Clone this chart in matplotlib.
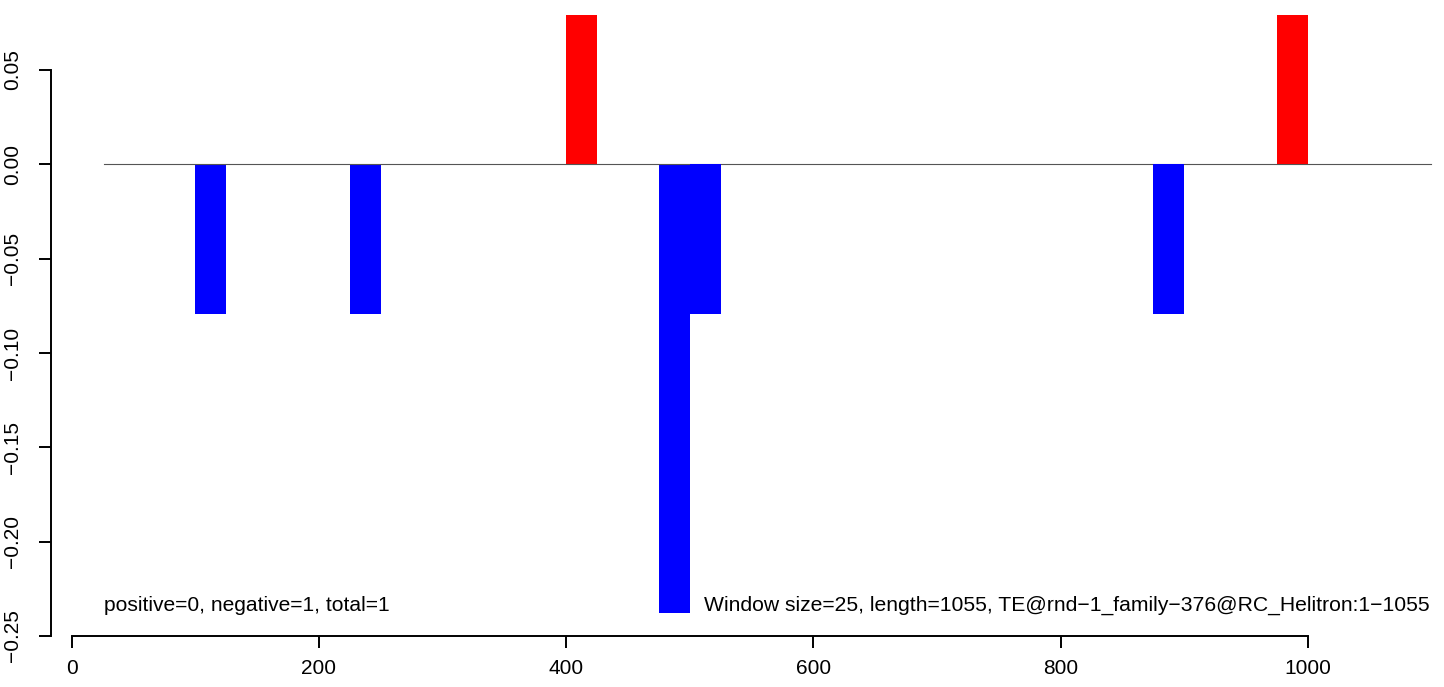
import matplotlib
matplotlib.use("Agg")
import matplotlib.pyplot as plt

# Data
window_starts = [100, 225, 400, 475, 500, 875, 975]
window_values = [-0.0793, -0.0793, 0.0793, -0.2378, -0.0793, -0.0793, 0.0793]
window_size = 25
x_ticks = [0, 200, 400, 600, 800, 1000]
y_ticks = [-0.25, -0.20, -0.15, -0.10, -0.05, 0.00, 0.05]
left_label = "positive=0, negative=1, total=1"
right_label = "Window size=25, length=1055, TE@rnd\u22121_family\u2212376@RC_Helitron:1\u22121055"
line_start, line_end = 26.0, 1100.0

plt.rcParams['font.family'] = ['Liberation Sans', 'DejaVu Sans']
fig = plt.figure(figsize=(14.44, 6.87), dpi=100)
ax = fig.add_axes([0, 0, 1, 1])
ax.set_xlim(-58.0, 1110.2)
ax.set_ylim(-0.27703, 0.08708)
ax.patch.set_visible(False)

for i, (s, v) in enumerate(zip(window_starts, window_values)):
    ax.bar(s, v, width=window_size, align='edge',
           color='#FF0000' if v > 0 else '#0000FF', linewidth=0,
           zorder=1 if i < 4 else 3)

ax.plot([line_start, line_end], [0, 0], color='#555555', linewidth=0.8, zorder=2)

ax.text(line_start, -0.2336, left_label, ha='left', va='center', fontsize=15.1)
ax.text(line_end - 1.5, -0.2336, right_label, ha='right', va='center', fontsize=15.2)

for sp in ['top', 'right']:
    ax.spines[sp].set_visible(False)
ax.spines['left'].set_position(('data', -16.9))
ax.spines['left'].set_bounds(-0.25, 0.05)
ax.spines['bottom'].set_position(('data', -0.25))
ax.spines['bottom'].set_bounds(0, 1000)
for sp in ['left', 'bottom']:
    ax.spines[sp].set_linewidth(1.4)

ax.set_xticks(x_ticks)
ax.set_xticklabels([str(t) for t in x_ticks])
ax.set_yticks(y_ticks)
ax.set_yticklabels([f"{t:.2f}".replace('-', '\u2212') for t in y_ticks])
ax.tick_params(axis='both', direction='out', length=8.6, width=1.4, labelsize=15)
ax.tick_params(axis='x', pad=8)
ax.tick_params(axis='y', pad=12, labelrotation=90)
for lbl in ax.get_yticklabels():
    lbl.set_va('center')

fig.savefig("out.png", dpi=100)
